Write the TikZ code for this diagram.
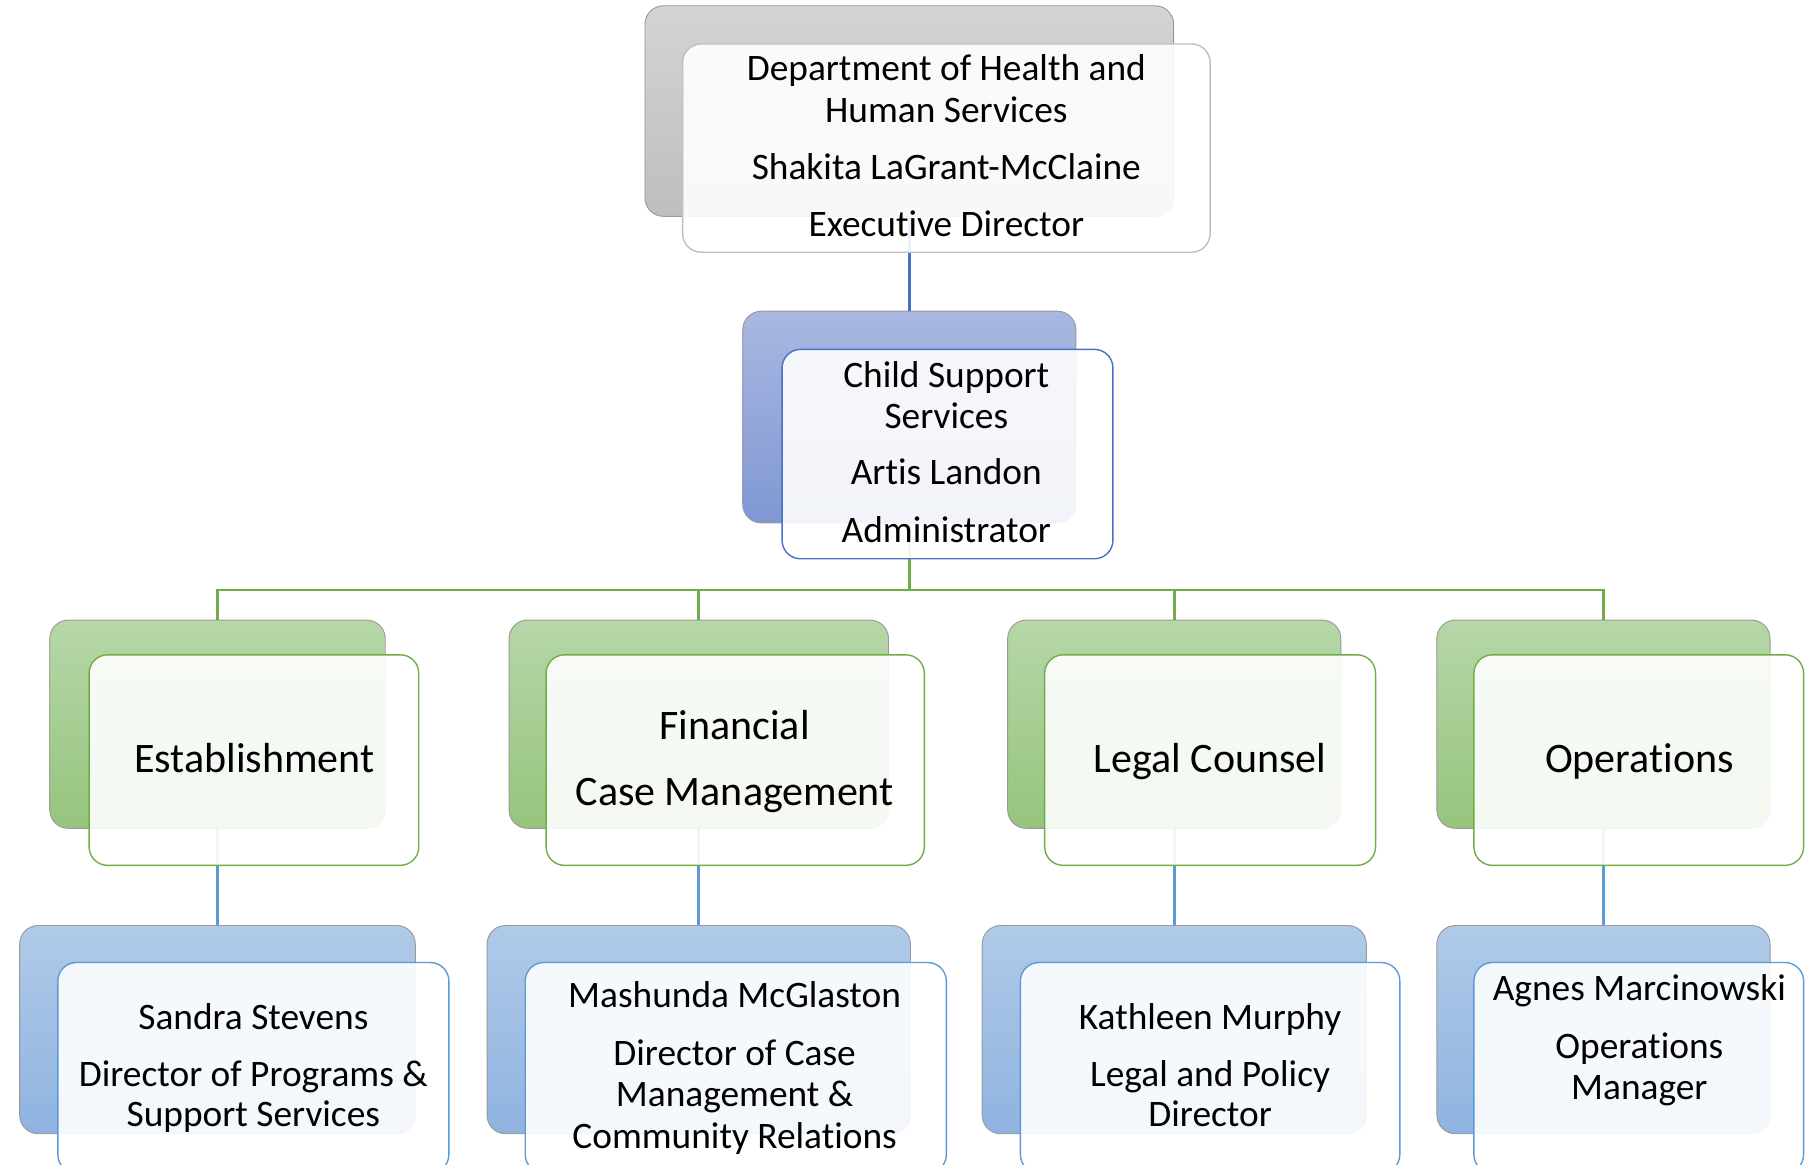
\documentclass[tikz,border=0pt]{standalone}
\usepackage{fontspec}
\setmainfont{Carlito}[Ligatures={NoCommon}]
\definecolor{gtop}{HTML}{D4D4D4}
\definecolor{gbot}{HTML}{BEBEBE}
\definecolor{ctop}{HTML}{A9B8E1}
\definecolor{cbot}{HTML}{8097D3}
\definecolor{etop}{HTML}{B6D7A8}
\definecolor{ebot}{HTML}{96C47D}
\definecolor{ptop}{HTML}{B0CAE8}
\definecolor{pbot}{HTML}{8FB3E0}
\definecolor{lgray}{HTML}{BFBFBF}
\definecolor{dblue}{HTML}{4472C4}
\definecolor{lgreen}{HTML}{70AD47}
\definecolor{lblue}{HTML}{5B9BD5}
\begin{document}
\begin{tikzpicture}[x=1pt,y=-1pt,
  backbox/.style={rectangle, rounded corners=16pt, draw=black!40, line width=0.8pt, inner sep=0pt},
  frontbox/.style={rectangle, rounded corners=16pt, fill=white, fill opacity=0.9, line width=1.2pt, inner sep=0pt},
  smalltxt/.style={anchor=base, inner sep=0pt, font=\fontsize{32.3}{35}\selectfont},
  bigtxt/.style={anchor=base, inner sep=0pt, font=\fontsize{36.3}{39}\selectfont},
  conn/.style={line width=2.3pt}]
\useasboundingbox (0,0) rectangle (1568,1007);

% ---- back boxes ----
\path node[backbox, top color=gtop, bottom color=gbot, minimum width=457pt, minimum height=182pt] (topb) at (786,96) {};
\path node[backbox, top color=ctop, bottom color=cbot, minimum width=288pt, minimum height=183pt] (csb) at (786,360.5) {};
\path node[backbox, top color=etop, bottom color=ebot, minimum width=290pt, minimum height=180pt] (estb) at (188,626) {};
\path node[backbox, top color=etop, bottom color=ebot, minimum width=328pt, minimum height=180pt] (finb) at (604,626) {};
\path node[backbox, top color=etop, bottom color=ebot, minimum width=288pt, minimum height=180pt] (legb) at (1015,626) {};
\path node[backbox, top color=etop, bottom color=ebot, minimum width=288pt, minimum height=180pt] (opsb) at (1386,626) {};
\path node[backbox, top color=ptop, bottom color=pbot, minimum width=342pt, minimum height=180pt] (ssb) at (188,890) {};
\path node[backbox, top color=ptop, bottom color=pbot, minimum width=366pt, minimum height=180pt] (mmb) at (604,890) {};
\path node[backbox, top color=ptop, bottom color=pbot, minimum width=332pt, minimum height=180pt] (kmb) at (1015,890) {};
\path node[backbox, top color=ptop, bottom color=pbot, minimum width=288pt, minimum height=180pt] (amb) at (1386,890) {};

% ---- connectors ----
\coordinate (bus) at (786,510);
\draw[conn, dblue] (topb.south) -- (csb.north);
\draw[conn, lgreen] (csb.south) -- (bus);
\draw[conn, lgreen] (bus) -| (estb.north);
\draw[conn, lgreen] (bus) -| (finb.north);
\draw[conn, lgreen] (bus) -| (legb.north);
\draw[conn, lgreen] (bus) -| (opsb.north);
\draw[conn, lblue] (estb.south) -- (ssb.north);
\draw[conn, lblue] (finb.south) -- (mmb.north);
\draw[conn, lblue] (legb.south) -- (kmb.north);
\draw[conn, lblue] (opsb.south) -- (amb.north);

% ---- front boxes ----
\node[frontbox, draw=lgray, minimum width=456pt, minimum height=180pt] (topf) at (818,128) {};
\node[frontbox, draw=dblue, minimum width=286pt, minimum height=181pt] (csf) at (819,392.5) {};
\node[frontbox, draw=lgreen, minimum width=285pt, minimum height=182pt] (estf) at (219.5,657) {};
\node[frontbox, draw=lgreen, minimum width=327pt, minimum height=182pt] (finf) at (635.5,657) {};
\node[frontbox, draw=lgreen, minimum width=286pt, minimum height=182pt] (legf) at (1046,657) {};
\node[frontbox, draw=lgreen, minimum width=285pt, minimum height=182pt] (opsf) at (1416.5,657) {};
\node[frontbox, draw=lblue, minimum width=338pt, minimum height=182pt] (ssf) at (219,923) {};
\node[frontbox, draw=lblue, minimum width=364pt, minimum height=182pt] (mmf) at (636,923) {};
\node[frontbox, draw=lblue, minimum width=328pt, minimum height=182pt] (kmf) at (1046,923) {};
\node[frontbox, draw=lblue, minimum width=285pt, minimum height=182pt] (amf) at (1416.5,923) {};

% ---- texts ----
\node[smalltxt] (t1) at (818,70) {Department of Health and};
\node[smalltxt] (t2) at (818,106) {Human Services};
\node[smalltxt] (t3) at (818,155) {Shakita LaGrant-McClaine};
\node[smalltxt] (t4) at (818,204) {Executive Director};

\node[smalltxt] (c1) at (818,335) {Child Support};
\node[smalltxt] (c2) at (818,370) {Services};
\node[smalltxt] (c3) at (818,419) {Artis Landon};
\node[smalltxt] (c4) at (818,469) {Administrator};

\node[bigtxt] (e1) at (220,667.5) {Establishment};
\node[bigtxt] (f1) at (635,639.5) {Financial};
\node[bigtxt] (f2) at (635,696.5) {Case Management};
\node[bigtxt] (l1) at (1046,667.5) {Legal Counsel};
\node[bigtxt] (o1) at (1417,667.5) {Operations};

\node[smalltxt] (s1) at (219,890) {Sandra Stevens};
\node[smalltxt] (s2) at (219,939) {Director of Programs \&};
\node[smalltxt] (s3) at (219,974) {Support Services};

\node[smalltxt] (m1) at (635,871) {Mashunda McGlaston};
\node[smalltxt] (m2) at (635,921) {Director of Case};
\node[smalltxt] (m3) at (635,956) {Management \&};
\node[smalltxt] (m4) at (635,993) {Community Relations};

\node[smalltxt] (k1) at (1046,890) {Kathleen Murphy};
\node[smalltxt] (k2) at (1046,939) {Legal and Policy};
\node[smalltxt] (k3) at (1046,974) {Director};

\node[smalltxt] (a1) at (1417,865) {Agnes Marcinowski};
\node[smalltxt] (a2) at (1417,915) {Operations};
\node[smalltxt] (a3) at (1417,950) {Manager};
\end{tikzpicture}
\end{document}
